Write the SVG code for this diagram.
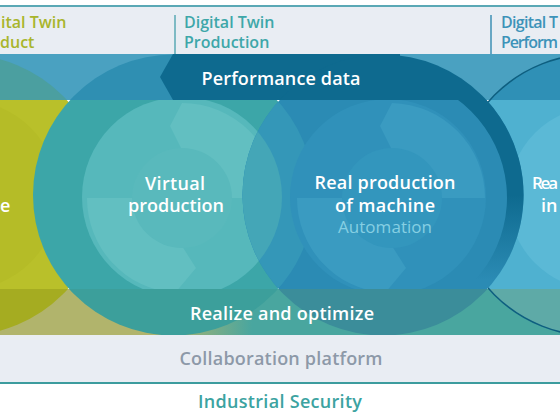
<svg xmlns="http://www.w3.org/2000/svg" width="560" height="420" viewBox="0 0 560 420">
<style>
.lbl{font-family:"Open Sans","Liberation Sans",sans-serif;font-weight:600;font-size:18px;fill:#ffffff;text-anchor:middle}
.lbs{font-family:"Open Sans","Liberation Sans",sans-serif;font-weight:600;font-size:18px;fill:#ffffff}
.hdr{font-family:"Open Sans","Liberation Sans",sans-serif;font-weight:600;font-size:16px}
.sub{font-family:"Open Sans","Liberation Sans",sans-serif;font-weight:400;font-size:17px;fill:#86cfe3;text-anchor:middle}
.gray{fill:#8d99a8}
.sec{fill:#3ca3a1}
</style>
<defs>
<circle id="cO" cx="-36.5" cy="195" r="140.5"/>
<circle id="cV" cx="173.5" cy="195" r="140.5"/>
<circle id="cR" cx="383" cy="195" r="140.5"/>
<circle id="cT" cx="594" cy="195" r="141"/>
<clipPath id="clipMain"><rect x="0" y="54" width="560" height="281"/></clipPath>
<clipPath id="clipTop"><rect x="0" y="54" width="560" height="46"/></clipPath>
<clipPath id="clipBot"><rect x="0" y="289" width="560" height="46"/></clipPath>
<clipPath id="clipR"><use href="#cR"/></clipPath>
<mask id="outR"><rect x="0" y="0" width="560" height="420" fill="#fff"/><use href="#cR" fill="#000"/></mask>
<linearGradient id="ringFade" gradientUnits="userSpaceOnUse" x1="0" y1="195" x2="0" y2="280">
<stop offset="0" stop-color="#0e6a8f" stop-opacity="1"/>
<stop offset="1" stop-color="#0e6a8f" stop-opacity="0"/>
</linearGradient>
<linearGradient id="botBase" gradientUnits="userSpaceOnUse" x1="0" y1="0" x2="560" y2="0">
<stop offset="0" stop-color="#b1b46c"/>
<stop offset="0.3" stop-color="#b1b46c"/>
<stop offset="0.45" stop-color="#49a69f"/>
<stop offset="1" stop-color="#49a69f"/>
</linearGradient>
</defs>

<rect x="0" y="0" width="560" height="420" fill="#ffffff"/>

<g id="header">
<rect x="0" y="7" width="560" height="47" fill="#e9edf3"/>
<rect x="0" y="5" width="560" height="2" fill="#5aa8b5"/>
<line x1="175" y1="15" x2="175" y2="54" stroke="#5aa9b5" stroke-width="1.5"/>
<line x1="491" y1="15" x2="491" y2="54" stroke="#3d8fb5" stroke-width="1.5"/>
<text class="hdr" x="1" y="28" fill="#a8b52c">ital Twin</text>
<text class="hdr" x="0" y="48" fill="#a8b52c">duct</text>
<text class="hdr" x="184" y="28" fill="#3ea7a9">Digital Twin</text>
<text class="hdr" x="184" y="48" fill="#3ea7a9">Production</text>
<text class="hdr" x="501" y="28" fill="#3d93b9" textLength="57">Digital T</text>
<text class="hdr" x="501" y="48" fill="#3d93b9" textLength="57">Perform</text>
</g>

<g clip-path="url(#clipMain)">
<g id="node-product">
<use href="#cO" fill="#b9c02a"/>
<circle cx="-36.5" cy="195" r="95" fill="#b5bc27"/>
</g>
<g id="node-performance">
<use href="#cT" fill="#4fb1d0"/>
<circle cx="600" cy="198" r="92" fill="#5bb9d6"/>
</g>
<g id="node-virtual">
<use href="#cV" fill="#3ca6a8"/>
<circle cx="182" cy="197" r="100" fill="#56b8bb"/>
<path d="M182,103 A95,95 0 0 1 277,198 L230,198 A48,48 0 0 0 182,150 L170,126 Z" fill="#62bfc1"/>
<path d="M175,293 A95,95 0 0 1 87,198 L134,198 A48,48 0 0 0 182,246 L196,268 Z" fill="#62bfc1"/>
<circle cx="182" cy="198" r="50" fill="#59b9bc"/>
</g>
<g id="node-real">
<use href="#cR" fill="#2b8bb4"/>
<g clip-path="url(#clipR)">
<use href="#cV" fill="#3497b8"/>
<circle cx="182" cy="197" r="100" fill="#44a6b7"/>
</g>
<circle cx="388" cy="197" r="98" fill="#3091ba"/>
<path d="M392,103 A95,95 0 0 1 485,198 L438,198 A48,48 0 0 0 392,150 L380,126 Z" fill="#3a9bc1"/>
<path d="M385,293 A95,95 0 0 1 297,198 L344,198 A48,48 0 0 0 392,246 L406,268 Z" fill="#3a9bc1"/>
<circle cx="392" cy="198" r="50" fill="#3396bd"/>
<path d="M383,54.5 A140.5,140.5 0 0 1 453.3,316.7 L440.5,306.3 A122,122 0 0 0 376,76 Z" fill="url(#ringFade)"/>
</g>
</g>

<g id="band-top" clip-path="url(#clipTop)">
<rect x="0" y="54" width="560" height="46" fill="#4aa1c1"/>
<use href="#cO" fill="#4b9fa0"/>
<use href="#cT" fill="#2f90b6"/>
<use href="#cV" fill="#2f8fb2"/>
<path d="M160,77 L173,54 L400,54 L400,100 L173,100 Z" fill="#0e6a8f"/>
<use href="#cR" fill="#0e6a8f"/>
</g>

<g id="band-bottom" clip-path="url(#clipBot)">
<rect x="0" y="289" width="560" height="46" fill="url(#botBase)"/>
<use href="#cO" fill="#a5ac21"/>
<use href="#cT" fill="#5eaaa7"/>
<use href="#cV" fill="#3c9f9b"/>
<use href="#cR" fill="#3b8d9a"/>
<g clip-path="url(#clipR)"><use href="#cV" fill="#3f989d"/></g>
</g>

<g id="connectors">
<use href="#cT" fill="none" stroke="#0e5f80" stroke-width="1.5" mask="url(#outR)" clip-path="url(#clipMain)"/>
</g>

<g id="labels">
<text class="lbl" x="281" y="85" textLength="159">Performance data</text>
<text class="lbs" x="0" y="212">e</text>
<text class="lbl" x="175" y="190" textLength="60">Virtual</text>
<text class="lbl" x="176" y="212" textLength="96">production</text>
<text class="lbl" x="385" y="189" textLength="141">Real production</text>
<text class="lbl" x="385" y="212" textLength="100">of machine</text>
<text class="sub" x="385" y="233" textLength="94">Automation</text>
<text class="lbs" x="532" y="189" style="font-size:17px" textLength="26">Rea</text>
<text class="lbs" x="541" y="212">in</text>
<text class="lbl" x="282" y="320" textLength="184">Realize and optimize</text>
</g>

<g id="footer">
<rect x="0" y="335" width="560" height="47" fill="#e9edf3"/>
<rect x="0" y="382" width="560" height="2" fill="#3c9c9e"/>
<text class="lbl gray" x="281" y="365" textLength="203">Collaboration platform</text>
<text class="lbl sec" x="280" y="408" textLength="164">Industrial Security</text>
</g>
</svg>
